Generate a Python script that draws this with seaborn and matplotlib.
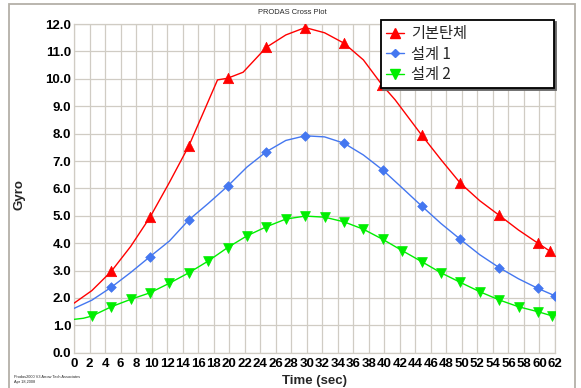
import matplotlib
matplotlib.use("Agg")
import matplotlib.pyplot as plt
from matplotlib.lines import Line2D
from matplotlib.patches import Rectangle
import seaborn as sns
import pandas as pd

# ---- data ----
series_names = ["기본탄체", "설계 1", "설계 2"]
series_colors = ["#ff0000", "#4477f0", "#00ee00"]
series_markers = ["^", "D", "v"]

red_line_t = [0, 2.3, 4.8, 7.3, 9.8, 12.3, 14.8, 16.6, 18.5, 19.8, 21.8, 24.8, 27.3, 29.8,
              32.3, 34.8, 37.3, 39.7, 41.4, 44.8, 47.3, 49.8, 52.3, 54.8, 57.3, 59.8, 61.4]
red_line_v = [1.81, 2.27, 2.97, 3.88, 4.95, 6.22, 7.55, 8.72, 9.96, 10.02, 10.24, 11.15, 11.60, 11.87,
              11.68, 11.30, 10.69, 9.78, 9.23, 7.95, 7.05, 6.19, 5.55, 5.02, 4.48, 4.00, 3.70]
red_mark_t = [4.8, 9.8, 14.8, 19.8, 24.8, 29.8, 34.8, 39.7, 44.8, 49.8, 54.8, 59.8, 61.4]
red_mark_v = [2.97, 4.95, 7.55, 10.02, 11.15, 11.87, 11.30, 9.78, 7.95, 6.19, 5.02, 4.00, 3.70]

blue_line_t = [0, 2.3, 4.8, 7.3, 9.8, 12.3, 14.8, 17.3, 19.8, 22.3, 24.8, 27.3, 29.8, 32.3,
               34.8, 37.3, 39.8, 42.3, 44.8, 47.3, 49.8, 52.3, 54.8, 57.3, 59.8, 62.0]
blue_line_v = [1.62, 1.92, 2.39, 2.93, 3.51, 4.08, 4.85, 5.45, 6.08, 6.78, 7.34, 7.75, 7.92, 7.88,
               7.65, 7.22, 6.67, 6.02, 5.36, 4.72, 4.14, 3.58, 3.11, 2.70, 2.35, 2.08]
blue_mark_t = [4.8, 9.8, 14.8, 19.8, 24.8, 29.8, 34.8, 39.8, 44.8, 49.8, 54.8, 59.8, 62.0]
blue_mark_v = [2.39, 3.51, 4.85, 6.08, 7.34, 7.92, 7.65, 6.67, 5.36, 4.14, 3.11, 2.35, 2.08]

green_mark_t = [2.3, 4.8, 7.3, 9.8, 12.3, 14.8, 17.3, 19.8, 22.3, 24.8, 27.3, 29.8, 32.3,
                34.8, 37.3, 39.8, 42.3, 44.8, 47.3, 49.8, 52.3, 54.8, 57.3, 59.8, 61.6]
green_mark_v = [1.34, 1.68, 1.95, 2.19, 2.54, 2.92, 3.35, 3.84, 4.27, 4.60, 4.88, 4.99, 4.95,
                4.78, 4.51, 4.14, 3.73, 3.33, 2.92, 2.57, 2.23, 1.93, 1.68, 1.50, 1.35]
green_line_t = [0, 1.2] + green_mark_t
green_line_v = [1.22, 1.26] + green_mark_v

x_ticks = list(range(0, 63, 2))
y_ticks = [0, 1, 2, 3, 4, 5, 6, 7, 8, 9, 10, 11, 12]

lines = [(red_line_t, red_line_v), (blue_line_t, blue_line_v), (green_line_t, green_line_v)]
marks = [(red_mark_t, red_mark_v), (blue_mark_t, blue_mark_v), (green_mark_t, green_mark_v)]
mark_sizes = [56, 24, 50]

# ---- figure ----
sns.set_theme(style="white")
plt.rcParams["font.family"] = ["Liberation Sans", "DejaVu Sans"]

W, H = 581, 388
fig = plt.figure(figsize=(W / 100, H / 100), dpi=100)
fig.patch.set_facecolor("white")
x0, x1, y_top, y_bot = 74, 555, 24, 352.8
ax = fig.add_axes([x0 / W, 1 - y_bot / H, (x1 - x0) / W, (y_bot - y_top) / H])

grid_c = "#d0ccc4"
for (lt, lv), (mt, mv), c, m, s, name in zip(lines, marks, series_colors,
                                             series_markers, mark_sizes, series_names):
    sns.lineplot(data=pd.DataFrame({"t": lt, "v": lv}), x="t", y="v", color=c,
                 linewidth=1.0, ax=ax, sort=False, estimator=None, zorder=3)
    sns.scatterplot(data=pd.DataFrame({"t": mt, "v": mv}), x="t", y="v", color=c,
                    marker=m, s=s, edgecolor=c, linewidth=0.5, ax=ax, zorder=4)

ax.set_xlim(0, 62)
ax.set_ylim(0, 12)
ax.set_xticks(x_ticks)
ax.set_xticklabels([str(t) for t in x_ticks])
ax.set_yticks(y_ticks)
ax.set_yticklabels([f"{v:.1f}" for v in y_ticks])
ax.grid(True, color=grid_c, linewidth=0.9)
ax.set_axisbelow(True)
for sp in ax.spines.values():
    sp.set_color(grid_c)
    sp.set_linewidth(0.9)
ax.tick_params(axis="both", length=0, labelsize=9.5, colors="black")
ax.tick_params(axis="x", pad=4)
ax.tick_params(axis="y", pad=2)
for lab in ax.get_xticklabels() + ax.get_yticklabels():
    lab.set_fontweight("bold")

ax.set_xlabel("")
ax.set_ylabel("")
fig.text(315 / W, 1 - 381 / H, "Time (sec)", ha="center", va="center",
         fontsize=9.5, fontweight="bold")
fig.text(20 / W, 1 - 195 / H, "Gyro", ha="center", va="center", rotation=90,
         fontsize=9.5, fontweight="bold")
fig.text(292 / W, 1 - 13 / H, "PRODAS Cross Plot", ha="center", va="center",
         fontsize=5.4)
fig.text(14 / W, 1 - 376.5 / H, "Prodas2000 V3 Arrow Tech Associates", ha="left",
         va="center", fontsize=2.8)
fig.text(14 / W, 1 - 381.5 / H, "Apr 18,2008", ha="left", va="center", fontsize=2.8)

# outer frame
fig.patches.append(Rectangle((9 / W, -0.02), (575 - 9) / W, (H - 4) / H + 0.02,
                             transform=fig.transFigure, fill=False,
                             edgecolor="#b4b0a8", linewidth=1.3))

# legend
handles = [Line2D([], [], color=c, marker=m, markersize=ms, linewidth=1.0,
                  markeredgecolor=c)
           for c, m, ms in zip(series_colors, series_markers, [7, 4.5, 7])]
leg = ax.legend(handles, series_names, loc="upper left",
                bbox_to_anchor=(381 / W, 1 - 20 / H, 173 / W, 0),
                bbox_transform=fig.transFigure, mode="expand", borderaxespad=0,
                prop={"family": ["Noto Sans CJK KR", "DejaVu Sans"], "size": 11},
                handlelength=1.15, handletextpad=0.45, borderpad=0.35,
                labelspacing=0.22, frameon=True, fancybox=False, framealpha=1,
                edgecolor="black", shadow={"ox": 1.2, "oy": -1.2, "color": "#666666",
                                           "alpha": 1.0})
leg.get_frame().set_linewidth(1.3)
leg.set_zorder(10)

fig.savefig("out.png", dpi=100)
